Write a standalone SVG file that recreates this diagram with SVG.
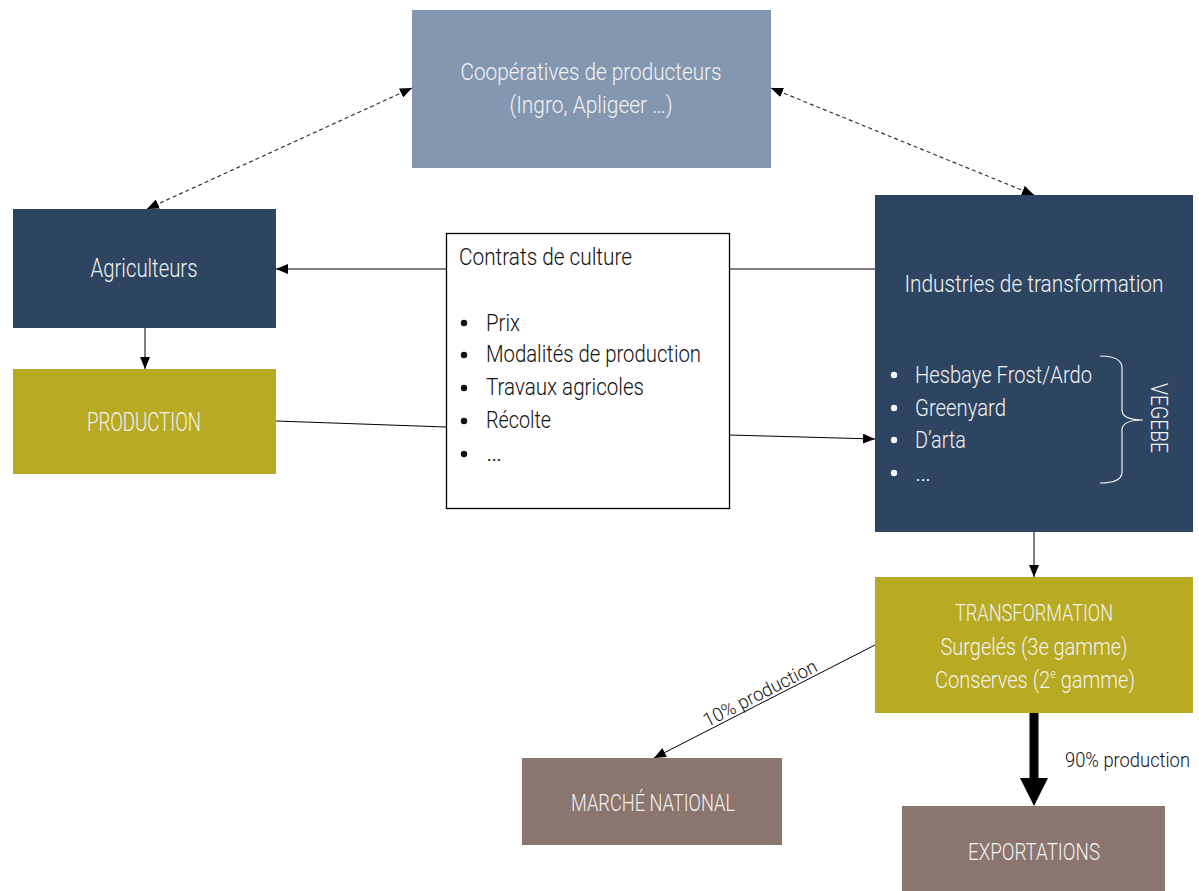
<svg xmlns="http://www.w3.org/2000/svg" width="1199" height="891" viewBox="0 0 1199 891">
<style>
.t{font-family:Roboto,"Liberation Sans",sans-serif;font-weight:300;fill:#F2F2F2;}
.k{font-family:Roboto,"Liberation Sans",sans-serif;font-weight:300;fill:#111;}
.c{stroke:#000;stroke-width:1;fill:none;}
.d{stroke:#333;stroke-width:1.2;stroke-dasharray:4 3;fill:none;}
</style>
<defs>
<marker id="ah" viewBox="0 0 12 10" refX="12" refY="5" markerWidth="12" markerHeight="10" markerUnits="userSpaceOnUse" orient="auto-start-reverse">
<path d="M0,0 L12,5 L0,10 Z" fill="#000"/>
</marker>
</defs>
<rect width="1199" height="891" fill="#fff"/>

<g id="cooperatives">
<rect x="412" y="10" width="359" height="158" fill="#8497B0"/>
<text class="t" x="591" y="80" font-size="24" text-anchor="middle" textLength="261" lengthAdjust="spacingAndGlyphs">Coopératives de producteurs</text>
<text class="t" x="591" y="113" font-size="24" text-anchor="middle" textLength="163" lengthAdjust="spacingAndGlyphs">(Ingro, Apligeer …)</text>
</g>

<g id="agriculteurs">
<rect x="13" y="209" width="263" height="119" fill="#2E4562"/>
<text class="t" x="144" y="277" font-size="25" text-anchor="middle" textLength="107" lengthAdjust="spacingAndGlyphs">Agriculteurs</text>
</g>

<g id="production">
<rect x="13" y="369" width="263" height="105" fill="#B8AA22"/>
<text class="t" x="144" y="431" font-size="25" text-anchor="middle" textLength="114" lengthAdjust="spacingAndGlyphs">PRODUCTION</text>
</g>

<g id="contrats">
<rect x="446.5" y="233.5" width="283" height="275" fill="#fff" stroke="#000" stroke-width="1.3"/>
<text class="k" x="459" y="265" font-size="23" textLength="173" lengthAdjust="spacingAndGlyphs">Contrats de culture</text>
<g fill="#111">
<circle cx="464" cy="323" r="3.2"/><circle cx="464" cy="355" r="3.2"/><circle cx="464" cy="388" r="3.2"/><circle cx="464" cy="421" r="3.2"/><circle cx="464" cy="454" r="3.2"/>
</g>
<text class="k" x="486" y="331" font-size="23" textLength="34" lengthAdjust="spacingAndGlyphs">Prix</text>
<text class="k" x="486" y="362" font-size="23" textLength="215" lengthAdjust="spacingAndGlyphs">Modalités de production</text>
<text class="k" x="486" y="395" font-size="23" textLength="158" lengthAdjust="spacingAndGlyphs">Travaux agricoles</text>
<text class="k" x="486" y="428" font-size="23" textLength="65" lengthAdjust="spacingAndGlyphs">Récolte</text>
<text class="k" x="486" y="461" font-size="23" textLength="16" lengthAdjust="spacingAndGlyphs">…</text>
</g>

<g id="industries">
<rect x="875" y="195" width="318" height="337" fill="#2E4562"/>
<text class="t" x="1034" y="292" font-size="23" text-anchor="middle" textLength="259" lengthAdjust="spacingAndGlyphs">Industries de transformation</text>
<g fill="#F2F2F2">
<circle cx="894" cy="375" r="3.2"/><circle cx="894" cy="408" r="3.2"/><circle cx="894" cy="440" r="3.2"/><circle cx="894" cy="473" r="3.2"/>
</g>
<text class="t" x="915" y="383" font-size="23" textLength="177" lengthAdjust="spacingAndGlyphs">Hesbaye Frost/Ardo</text>
<text class="t" x="915" y="416" font-size="23" textLength="91" lengthAdjust="spacingAndGlyphs">Greenyard</text>
<text class="t" x="915" y="448" font-size="23" textLength="51" lengthAdjust="spacingAndGlyphs">D’arta</text>
<text class="t" x="915" y="481" font-size="23" textLength="16" lengthAdjust="spacingAndGlyphs">…</text>
<path d="M1100,356 Q1122,356 1122,368 L1122,410 Q1122,420 1143,420 Q1122,420 1122,430 L1122,472 Q1122,483 1100,483" fill="none" stroke="#F2F2F2" stroke-width="1.2"/>
<text class="t" x="1151" y="418" font-size="23" text-anchor="middle" textLength="70" lengthAdjust="spacingAndGlyphs" transform="rotate(90 1151 418)">VEGEBE</text>
</g>

<g id="transformation">
<rect x="875" y="577" width="318" height="136" fill="#B8AA22"/>
<text class="t" x="1034" y="621" font-size="24" text-anchor="middle" textLength="158" lengthAdjust="spacingAndGlyphs">TRANSFORMATION</text>
<text class="t" x="1034" y="655" font-size="24" text-anchor="middle" textLength="187" lengthAdjust="spacingAndGlyphs">Surgelés (3e gamme)</text>
<text class="t" x="935" y="688" font-size="24" textLength="200" lengthAdjust="spacingAndGlyphs">Conserves (2<tspan font-size="13" dy="-10">e</tspan><tspan dy="10"> gamme)</tspan></text>
</g>

<g id="marche-national">
<rect x="522" y="758" width="260" height="87" fill="#8B756F"/>
<text class="t" x="653" y="811" font-size="24" text-anchor="middle" textLength="164" lengthAdjust="spacingAndGlyphs">MARCHÉ NATIONAL</text>
</g>

<g id="exportations">
<rect x="902" y="806" width="263" height="85" fill="#8B756F"/>
<text class="t" x="1034" y="860" font-size="24" text-anchor="middle" textLength="132" lengthAdjust="spacingAndGlyphs">EXPORTATIONS</text>
</g>

<g id="connectors">
<line class="d" x1="412" y1="88" x2="147" y2="209" marker-start="url(#ah)" marker-end="url(#ah)"/>
<line class="d" x1="771" y1="88" x2="1034" y2="195" marker-start="url(#ah)" marker-end="url(#ah)"/>
<line class="c" x1="446" y1="269" x2="276" y2="269" marker-end="url(#ah)"/>
<line class="c" x1="729" y1="269" x2="875" y2="269"/>
<line class="c" x1="276" y1="421" x2="446" y2="427" stroke="#555"/>
<line class="c" x1="729" y1="435" x2="875" y2="439" marker-end="url(#ah)"/>
<line class="c" x1="145" y1="328" x2="145" y2="369" stroke="#666" marker-end="url(#ah)"/>
<line class="c" x1="1034" y1="532" x2="1034" y2="577" marker-end="url(#ah)"/>
<line class="c" x1="875" y1="645" x2="654" y2="758" marker-end="url(#ah)"/>
<line x1="1034" y1="713" x2="1034" y2="780" stroke="#000" stroke-width="9"/>
<polygon points="1020,778 1048,778 1034,806" fill="#000"/>
<text class="k" x="763" y="699" font-size="19" text-anchor="middle" textLength="125" lengthAdjust="spacingAndGlyphs" transform="rotate(-27 763 699)">10% production</text>
<text class="k" x="1065" y="767" font-size="20" textLength="125" lengthAdjust="spacingAndGlyphs">90% production</text>
</g>
</svg>
